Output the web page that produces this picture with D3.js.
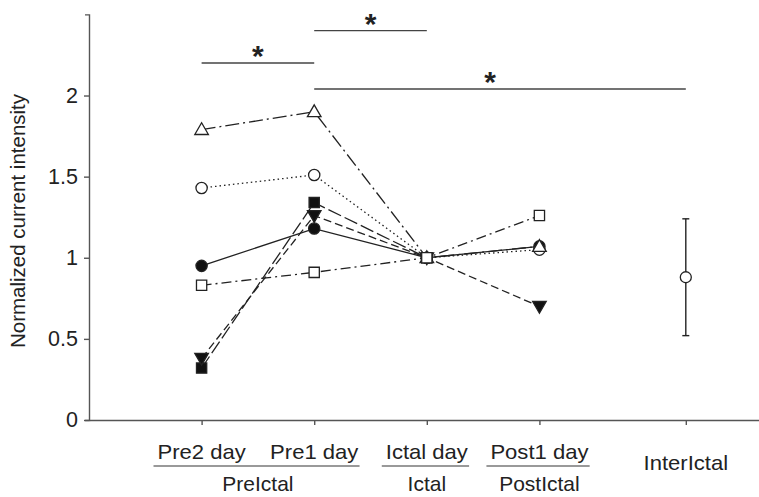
<!DOCTYPE html>
<html>
<head>
<meta charset="utf-8">
<script src="https://cdn.jsdelivr.net/npm/d3@7"></script>
<style>
  body { margin: 0; background: #fff; }
  text { font-family: Arial, "Liberation Sans", sans-serif; fill: #222; }
</style>
</head>
<body>
<div id="chart"></div>
<script>
// categorías del eje X (slot numérico de cada una)
const categories = ["Pre2 day", "Pre1 day", "Ictal day", "Post1 day", "InterIctal"];
const catSlot = [0, 1, 2, 3, 4.3];
const groups = [
    { name: "PreIctal", members: ["Pre2 day", "Pre1 day"] },
    { name: "Ictal", members: ["Ictal day"] },
    { name: "PostIctal", members: ["Post1 day"] }
];
const yTicks = [0, 0.5, 1, 1.5, 2];

// series (valores por día: Pre2, Pre1, Ictal, Post1)
const filledCircle = [0.95, 1.18, 1.00, 1.07];
const openSquare = [0.83, 0.91, 1.00, 1.26];
const filledSquare = [0.32, 1.34, 1.00];
const filledTriangleDown = [0.38, 1.26, 1.00, 0.70];
const openCircle = [1.43, 1.51, 1.00, 1.05];
const openTriangle = [1.79, 1.90, 1.00, 1.07];

// interictal: media y error
const interMean = [0.88];
const interErr = [0.36];

// comparaciones significativas
const sigFrom = ["Pre2 day", "Pre1 day", "Pre1 day"];
const sigTo = ["Pre1 day", "Ictal day", "InterIctal"];
const sigLevel = [2.20, 2.40, 2.04];

const W = 759, H = 497;
const svg = d3.select("#chart").append("svg")
    .attr("width", W)
    .attr("height", H);

const x = d3.scaleLinear().domain([-1, 4.95]).range([89, 759]);
const y = d3.scaleLinear().domain([0, 2.5]).range([420, 14.4]);
const xc = name => x(catSlot[categories.indexOf(name)]);

// ejes
const yAxis = d3.axisLeft(y).tickValues(yTicks).tickFormat(d => d3.format("")(d)).tickSize(5).tickSizeOuter(4).tickPadding(6);
const gy = svg.append("g").attr("transform", "translate(89,0)").call(yAxis);
gy.selectAll("path, line").attr("stroke", "#555").attr("stroke-width", 1.4);
gy.selectAll("text").style("font-size", "21.5px").attr("fill", "#222");

const xAxis = d3.axisBottom(x).tickValues(catSlot).tickFormat("").tickSize(5).tickSizeOuter(0);
const gx = svg.append("g").attr("transform", "translate(0,420)").call(xAxis);
gx.selectAll("path, line").attr("stroke", "#555").attr("stroke-width", 1.4);

// etiqueta eje Y
svg.append("text")
    .attr("transform", "translate(25,221) rotate(-90)")
    .attr("text-anchor", "middle")
    .style("font-size", "20.5px")
    .text("Normalized current intensity");

// etiquetas de categorías
const sx = 1.05;
const labelG = svg.append("g");
categories.forEach((c, i) => {
    const isInter = c === "InterIctal";
    labelG.append("text")
        .attr("class", "cat-label")
        .attr("data-cat", c)
        .attr("transform", `translate(${xc(c)},${isInter ? 470 : 459}) scale(${sx},1)`)
        .attr("text-anchor", "middle")
        .style("font-size", "21px")
        .text(c);
});

// subrayado y nombre de grupo
groups.forEach(g => {
    const boxes = g.members.map(m => {
        const el = labelG.select(`[data-cat="${m}"]`).node();
        const b = el.getBBox();
        const cx = xc(m);
        return { x0: cx + b.x * sx, x1: cx + (b.x + b.width) * sx };
    });
    const x0 = d3.min(boxes, d => d.x0) - 4;
    const x1 = d3.max(boxes, d => d.x1) + 1;
    svg.append("line")
        .attr("x1", x0).attr("x2", x1)
        .attr("y1", 466).attr("y2", 466)
        .attr("stroke", "#777").attr("stroke-width", 1.6);
    const mid = d3.mean(g.members, m => xc(m));
    svg.append("text")
        .attr("transform", `translate(${mid},491) scale(${sx},1)`)
        .attr("text-anchor", "middle")
        .style("font-size", "20px")
        .text(g.name);
});

// series
const series = [
    { values: filledCircle, dash: null, shape: d3.symbolCircle, size: 100, fill: "#111" },
    { values: filledSquare, dash: "14,4", shape: d3.symbolSquare, size: 105, fill: "#111" },
    { values: filledTriangleDown, dash: "8,4", shape: d3.symbolTriangle, size: 80, fill: "#111", rotate: 180 },
    { values: openCircle, dash: "1.5,3", shape: d3.symbolCircle, size: 100, fill: "#fff" },
    { values: openTriangle, dash: "14,4,2,4", shape: d3.symbolTriangle, size: 80, fill: "#fff" },
    { values: openSquare, dash: "10,4,2,4", shape: d3.symbolSquare, size: 105, fill: "#fff" }
];

const line = d3.line()
    .x((d, i) => x(catSlot[i]))
    .y(d => y(d));

series.forEach(s => {
    svg.append("path")
        .datum(s.values)
        .attr("d", line)
        .attr("fill", "none")
        .attr("stroke", "#222")
        .attr("stroke-width", 1.3)
        .attr("stroke-dasharray", s.dash);
});

series.forEach(s => {
    svg.selectAll(null)
        .data(s.values)
        .enter().append("path")
        .attr("d", d3.symbol().type(s.shape).size(s.size))
        .attr("transform", (d, i) => `translate(${x(catSlot[i])},${y(d) + (s.shape === d3.symbolTriangle ? (s.rotate ? -1 : 1) : 0)}) rotate(${s.rotate || 0})`)
        .attr("fill", s.fill)
        .attr("stroke", "#222")
        .attr("stroke-width", 1.3);
});

// interictal con barra de error
const xi = xc("InterIctal");
interMean.forEach((m, i) => {
    const e = interErr[i];
    svg.append("line")
        .attr("x1", xi).attr("x2", xi)
        .attr("y1", y(m + e)).attr("y2", y(m - e))
        .attr("stroke", "#222").attr("stroke-width", 1.4);
    [m + e, m - e].forEach(v => {
        svg.append("line")
            .attr("x1", xi - 3.5).attr("x2", xi + 3.5)
            .attr("y1", y(v)).attr("y2", y(v))
            .attr("stroke", "#222").attr("stroke-width", 1.4);
    });
    svg.append("circle")
        .attr("cx", xi).attr("cy", y(m)).attr("r", 5.5)
        .attr("fill", "#fff").attr("stroke", "#222").attr("stroke-width", 1.3);
});

// marcas de significancia
sigLevel.forEach((lv, i) => {
    const x1 = xc(sigFrom[i]), x2 = xc(sigTo[i]);
    svg.append("line")
        .attr("x1", x1).attr("x2", x2)
        .attr("y1", y(lv)).attr("y2", y(lv))
        .attr("stroke", "#444").attr("stroke-width", 1.4);
    svg.append("text")
        .attr("x", i === 2 ? (x1 + x2) / 2 - 10 : (x1 + x2) / 2)
        .attr("y", y(lv) + 3)
        .attr("text-anchor", "middle")
        .style("font-size", "30px")
        .style("font-weight", "bold")
        .text("*");
});
</script>
</body>
</html>
